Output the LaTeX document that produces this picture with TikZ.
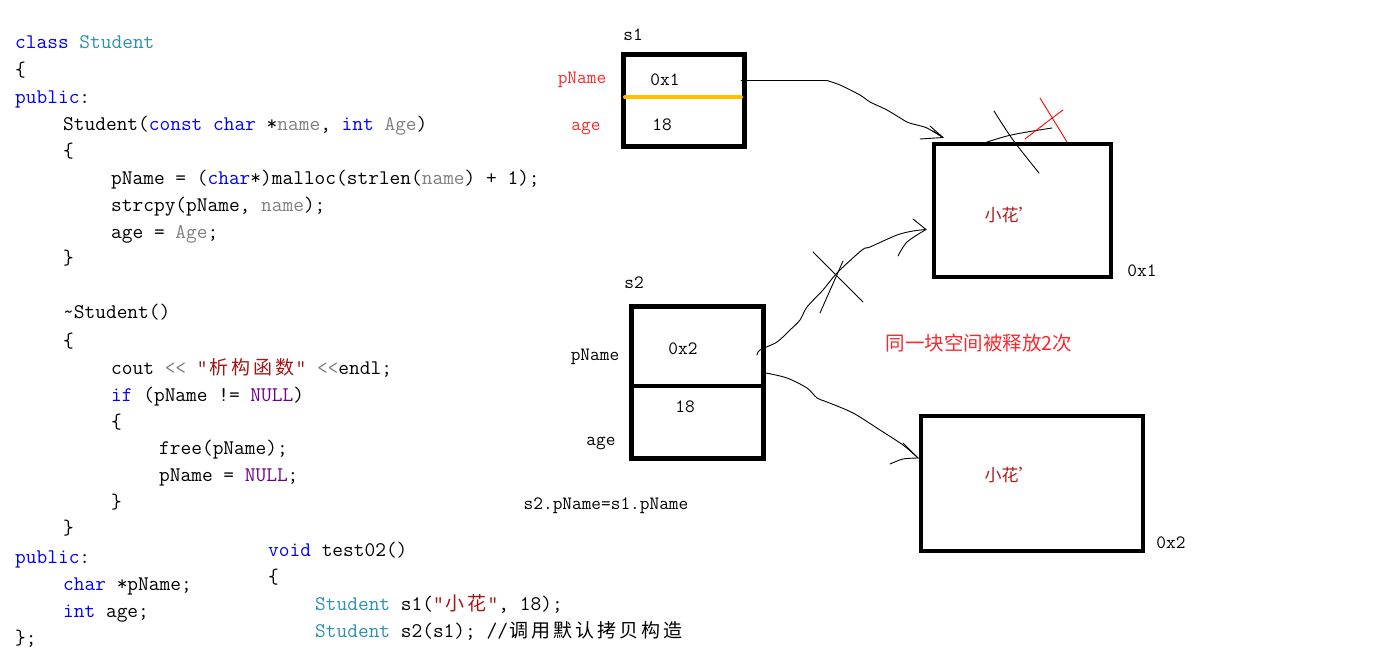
\documentclass[tikz,border=0pt]{standalone}
\usepackage{fontspec}
\newfontfamily\cjkfont{Noto Sans CJK SC}
\definecolor{kwc}{RGB}{0,0,255}
\definecolor{tyc}{RGB}{43,145,175}
\definecolor{prc}{RGB}{128,128,128}
\definecolor{stc}{RGB}{163,21,21}
\definecolor{nlc}{RGB}{111,0,138}
\definecolor{redlab}{RGB}{250,40,45}
\definecolor{darkred}{RGB}{175,25,25}
\definecolor{barcol}{RGB}{255,192,0}
\newcommand\codefont{\fontsize{20.8pt}{25pt}\selectfont\ttfamily}
\newcommand\labfont{\fontsize{18.8pt}{22pt}\selectfont\ttfamily}
\newcommand\ckw[1]{\textcolor{kwc}{#1}}
\newcommand\cty[1]{\textcolor{tyc}{#1}}
\newcommand\cpr[1]{\textcolor{prc}{#1}}
\newcommand\cst[1]{\textcolor{stc}{#1}}
\newcommand\cnl[1]{\textcolor{nlc}{#1}}
\newcommand\cj[1]{\makebox[22pt]{\fontsize{19pt}{22pt}\selectfont\cjkfont #1}}
\begin{document}
\begin{tikzpicture}[x=1pt,y=-1pt,
  code/.style={anchor=base west,inner sep=0pt,font=\codefont},
  lab/.style={inner sep=0pt,font=\labfont},
  redl/.style={lab,text=redlab},
  membox/.style={draw,line width=4.5pt,inner sep=0pt},
  heaptxt/.style={inner sep=0pt,text=darkred,font=\fontsize{17pt}{19pt}\selectfont\cjkfont},
  hand/.style={line width=0.9pt,line join=round,line cap=round},
  redhand/.style={hand,draw=red}]
\useasboundingbox (0,0) rectangle (1385,663);

% ---- code: class Student ----
\node[code] (c1) at (15,49) {\ckw{class} \cty{Student}};
\node[code] (c2) at (15,77) {\{};
\node[code] (c3) at (15,104) {\ckw{public}:};
\node[code] (c4) at (63,131) {Student(\ckw{const} \ckw{char} *\cpr{name}, \ckw{int} \cpr{Age})};
\node[code] (c5) at (63,158) {\{};
\node[code] (c6) at (111,185) {pName = (\ckw{char}*)malloc(strlen(\cpr{name}) + 1);};
\node[code] (c7) at (111,212) {strcpy(pName, \cpr{name});};
\node[code] (c8) at (111,239) {age = \cpr{Age};};
\node[code] (c9) at (63,265) {\}};
\node[code] (c10) at (63,319) {\textasciitilde Student()};
\node[code] (c11) at (63,347) {\{};
\node[code] (c12) at (111,374) {cout \cpr{<<} \cst{"\cj{析}\cj{构}\cj{函}\cj{数}"} \cpr{<<}endl;};
\node[code] (c13) at (111,401) {\ckw{if} (pName != \cnl{NULL})};
\node[code] (c14) at (111,428) {\{};
\node[code] (c15) at (159,454) {free(pName);};
\node[code] (c16) at (159,481) {pName = \cnl{NULL};};
\node[code] (c17) at (111,508) {\}};
\node[code] (c18) at (63,534) {\}};
\node[code] (c19) at (15,563) {\ckw{public}:};
\node[code] (c20) at (63,590) {\ckw{char} *pName;};
\node[code] (c21) at (63,617) {\ckw{int} age;};
\node[code] (c22) at (15,644) {\};};
% ---- code: test02 ----
\node[code] (t1) at (268,556) {\ckw{void} test02()};
\node[code] (t2) at (268,583) {\{};
\node[code] (t3) at (315,610) {\cty{Student} s1(\cst{"\cj{小}\cj{花}"}, 18);};
\node[code] (t4) at (315,637) {\cty{Student} s2(s1); //\cj{调}\cj{用}\cj{默}\cj{认}\cj{拷}\cj{贝}\cj{构}\cj{造}};

% ---- object s1 ----
\node[lab] (s1lab) at (633,35) {s1};
\node[membox,minimum width=121pt,minimum height=92pt] (s1) at (684,100.5) {};
\draw[draw=barcol,line width=4pt,line cap=round] (625,97.5) -- (741,97.5);
\node[redl] (s1pn) at (582,80) {pName};
\node[redl] (s1age) at (586,128) {age};
\node[lab] (s1v1) at (665,80) {0x1};
\node[lab] (s1v2) at (662,125) {18};

% ---- heap block 0x1 ----
\node[membox,minimum width=177pt,minimum height=133pt] (h1) at (1022.5,210.5) {};
\node[heaptxt] (h1txt) at (1010,215) {小花’};
\node[lab] (h1addr) at (1142,271) {0x1};

% ---- object s2 ----
\node[lab] (s2lab) at (634,283) {s2};
\node[membox,minimum width=132pt,minimum height=152pt] (s2) at (697.5,382.5) {};
\draw[line width=4.5pt] (s2.west |- 0,386) -- (s2.east |- 0,386);
\node[lab] (s2pn) at (595,357) {pName};
\node[lab] (s2age) at (601,443) {age};
\node[lab] (s2v1) at (683,349) {0x2};
\node[lab] (s2v2) at (685,407) {18};
\node[lab] (assign) at (606,506) {s2.pName=s1.pName};

% ---- heap block 0x2 ----
\node[membox,minimum width=222pt,minimum height=135pt] (h2) at (1032,483.5) {};
\node[heaptxt] (h2txt) at (1010,475) {小花’};
\node[lab] (h2addr) at (1171,543) {0x2};

\node[inner sep=0pt,text=redlab,font=\fontsize{19.5pt}{22pt}\selectfont\cjkfont] (note) at (979,343) {同一块空间被释放2次};

% ---- hand-drawn arrow s1 -> 0x1 ----
\coordinate (aS) at (741,80.5);
\coordinate (aE) at (943,137.5);
\draw[hand] (aS) -- (827,80.5) plot[smooth,tension=0.4] coordinates {(827,80.5) (840,85) (860,95) (870,102) (887,110) (907,122) (917,125) (927,128) (aE)};
\draw[hand] (930,126) -- (aE);
\draw[hand] (933,131) -- (941,136);
\draw[hand] (920,139) -- (aE);

% ---- hand-drawn arrow s2 -> 0x1 (crossed out) ----
\coordinate (bS) at (757,355);
\coordinate (bE) at (926,229.5);
\draw[hand] plot[smooth,tension=0.5] coordinates {(bS) (760,350) (777,342) (790,330) (800,320) (807,307) (823,290) (837,273) (862,250) (870,247) (897,235) (913,231) (bE)};
\draw[hand] (913,219) -- (bE);
\draw[hand] plot[smooth,tension=0.5] coordinates {(898,256) (907,242) (bE)};
\draw[hand] (813,252) -- (863,302);
\draw[hand] (843,261) -- (820,313);

% ---- hand-drawn arrow s2 -> 0x2 ----
\coordinate (cS) at (766,373);
\coordinate (cE) at (918,458);
\draw[hand] plot[smooth,tension=0.5] coordinates {(cS) (787,378) (807,388) (817,398) (827,402) (853,413) (880,430) (903,445) (917,457) (cE)};
\draw[hand] (903,443) -- (cE);
\draw[hand] plot[smooth,tension=0.5] coordinates {(890,464) (903,459) (cE)};

% ---- scribbles on top of block 0x1 ----
\draw[hand] plot[smooth,tension=0.5] coordinates {(987,142) (1007,136) (1027,132) (1052,128)};
\draw[hand] plot[smooth,tension=0.5] coordinates {(994,111) (1013,140) (1039,173)};
\draw[redhand] (1040,98) -- (1067,142);
\draw[redhand] plot[smooth,tension=0.5] coordinates {(1063,110) (1047,122) (1025,139)};
\end{tikzpicture}
\end{document}
